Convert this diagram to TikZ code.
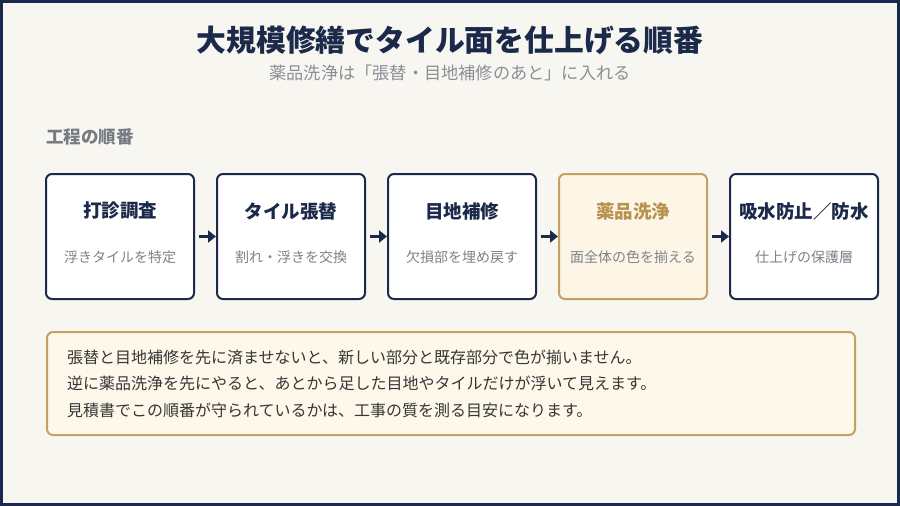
\documentclass[tikz,border=0pt]{standalone}
\usepackage{fontspec}
\setmainfont{Noto Sans CJK JP}
\usetikzlibrary{arrows.meta,positioning}

\definecolor{navy}{HTML}{1B2A4A}
\definecolor{fondo}{HTML}{F8F6F0}
\definecolor{oro}{HTML}{C2A264}
\definecolor{orotxt}{HTML}{B8924F}
\definecolor{orofill}{HTML}{FDF6E6}
\definecolor{notafill}{HTML}{FDF8EA}
\definecolor{gristxt}{HTML}{7D828A}
\definecolor{notatxt}{HTML}{363636}

\tikzset{
  paso/.style={draw=navy, line width=2pt, fill=white, rounded corners=6pt,
    minimum width=148, minimum height=125, inner sep=0pt},
  pasonormal/.style={},
  pasoclave/.style={draw=oro, fill=orofill},
  titulopaso/.style={font=\bfseries\fontsize{18.5}{20}\selectfont},
  descpaso/.style={font=\fontsize{14}{16}\selectfont, text=gristxt},
  flecha/.style={->, navy, line width=3pt, shorten <=4pt}
}

\begin{document}
\begin{tikzpicture}[x=1pt, y=-1pt, >={Triangle[length=8pt,width=12pt]}]
  \def\bw{148}
  \def\gap{23}
  \def\xo{46}
  \def\yc{236.5}

  % Marco y fondo
  \fill[navy] (0,0) rectangle (900,506);
  \fill[fondo] (3,3) rectangle (897,503);

  % Titulos
  \node[font=\bfseries\fontsize{29.8}{32}\selectfont, text=navy] (titulo) at (450,40)
    {大規模修繕でタイル面を仕上げる順番};
  \node[font=\fontsize{17.2}{19}\selectfont, text=gristxt!90] (subtitulo) at (450,73)
    {薬品洗浄は「張替・目地補修のあと」に入れる};
  \node[anchor=west, inner sep=0pt, font=\bfseries\fontsize{17.5}{19}\selectfont, text=gristxt!95!black]
    (seccion) at (\xo,137) {工程の順番};

  % Pasos
  \foreach \i/\t/\d/\s/\c in {1/打診調査/浮きタイルを特定/pasonormal/navy,
      2/タイル張替/割れ・浮きを交換/pasonormal/navy,
      3/目地補修/欠損部を埋め戻す/pasonormal/navy,
      4/薬品洗浄/面全体の色を揃える/pasoclave/orotxt,
      5/吸水防止／防水/仕上げの保護層/pasonormal/navy} {
    \node[paso, \s] (p\i) at ({\xo+\bw/2+(\i-1)*(\bw+\gap)}, \yc) {};
    \node[titulopaso, text=\c] (t\i) at ([yshift=25.5pt]p\i.center) {\t};
    \node[descpaso] (d\i) at ([yshift=-20.5pt]p\i.center) {\d};
  }

  % Flechas
  \foreach \i [evaluate=\i as \j using int(\i+1)] in {1,...,4}
    \draw[flecha] (p\i) -- (p\j);

  % Nota
  \node[draw=oro, line width=2pt, fill=notafill, rounded corners=6pt, anchor=north west,
    minimum width=808, minimum height=103, inner sep=0pt] (nota) at (\xo,331) {};
  \node[anchor=west, align=left, inner sep=0pt, text=notatxt,
    font=\fontsize{16}{26.5}\selectfont] (notatexto) at ([xshift=21pt]nota.west)
    {張替と目地補修を先に済ませないと、新しい部分と既存部分で色が揃いません。\\
     逆に薬品洗浄を先にやると、あとから足した目地やタイルだけが浮いて見えます。\\
     見積書でこの順番が守られているかは、工事の質を測る目安になります。};
\end{tikzpicture}
\end{document}
